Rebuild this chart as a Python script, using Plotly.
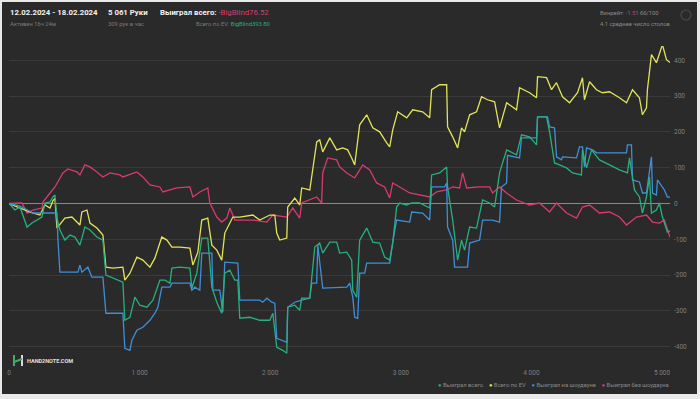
import plotly.graph_objects as go

# ---------------- data (hands, BigBlinds) ----------------
won_total_x = [0, 46, 84, 107, 138, 176, 214, 252, 275, 314, 337, 352, 367, 390, 428, 467, 505, 543, 581, 620, 673, 719,
               742, 796, 872, 887, 926, 964, 1002, 1056, 1102, 1155, 1193, 1232, 1247, 1308, 1385, 1400, 1438, 1476, 1522,
               1553, 1591, 1629, 1652, 1691, 1729, 1752, 1767, 1844, 1920, 1997, 2020, 2050, 2096, 2127, 2134, 2188, 2226,
               2241, 2303, 2341, 2379, 2402, 2456, 2509, 2532, 2586, 2624, 2632, 2662, 2685, 2739, 2785, 2838, 2876, 2915,
               2938, 2968, 2991, 3045, 3083, 3144, 3221, 3236, 3297, 3351, 3358, 3397, 3435, 3465, 3488, 3527, 3580, 3626,
               3680, 3718, 3756, 3810, 3886, 3924, 3986, 4039, 4047, 4116, 4139, 4177, 4215, 4269, 4315, 4383, 4391, 4422,
               4460, 4521, 4598, 4674, 4735, 4751, 4789, 4827, 4850, 4881, 4904, 4919, 4957, 4980, 5003, 5041, 5061]
won_total_y = [0, -18.2, -9.8, -32.2, -65.8, -54.6, -46.2, -37.8, 1.4, 4.2, 18.2, 23.8, -40.6, -74.2, -102.2, -88.2, -93.8,
               -116.2, -65.8, -74.2, -93.8, -102.2, -200.2, -208.6, -219.8, -326.2, -317.8, -261.8, -284.2, -289.8, -270.2,
               -214.2, -214.2, -222.6, -180.6, -177.8, -180.6, -236.6, -194.6, -96.6, -96.6, -233.8, -275.8, -306.6, -194.6,
               -186.2, -214.2, -214.2, -320.6, -317.8, -326.2, -326.2, -306.6, -401.8, -410.2, -418.6, -289.8, -284.2,
               -298.2, -264.6, -264.6, -121.8, -110.6, -138.6, -107.8, -107.8, -138.6, -135.8, -158.2, -242.2, -261.8,
               -102.2, -68.6, -107.8, -110.6, -149.8, -158.2, -110.6, -9.8, 1.4, -4.2, 1.4, 1.4, -12.6, 79.8, 85.4, 102.2,
               46.2, -46.2, -158.2, -102.2, -130.2, -65.8, -68.6, 9.8, 1.4, -9.8, 85.4, 149.8, 135.8, 191.8, 186.2, 163.8,
               242.2, 242.2, 200.2, 113.4, 107.8, 99.4, 85.4, 79.8, 149.8, 99.4, 149.8, 121.8, 107.8, 93.8, 85.4, 127.4,
               37.8, 18.2, -26.6, 18.2, 74.2, -26.6, -18.2, 1.4, -37.8, -79.8, -76.52]

ev_total_x = [0, 84, 161, 237, 275, 314, 337, 352, 367, 428, 482, 520, 543, 558, 597, 620, 673, 719, 742, 796, 872, 887,
              926, 979, 1025, 1079, 1117, 1170, 1209, 1247, 1308, 1385, 1408, 1446, 1476, 1522, 1553, 1591, 1629, 1652,
              1691, 1714, 1767, 1867, 1920, 1997, 2035, 2050, 2073, 2127, 2134, 2188, 2226, 2241, 2303, 2356, 2379, 2402,
              2456, 2509, 2555, 2593, 2624, 2647, 2685, 2739, 2785, 2838, 2892, 2915, 2938, 2976, 3045, 3091, 3167, 3221,
              3236, 3297, 3351, 3358, 3397, 3435, 3465, 3488, 3527, 3580, 3618, 3664, 3718, 3756, 3810, 3886, 3909, 3986,
              4039, 4047, 4116, 4154, 4192, 4238, 4292, 4353, 4391, 4406, 4445, 4498, 4544, 4598, 4674, 4728, 4774, 4827,
              4850, 4881, 4888, 4919, 4957, 5003, 5034, 5061]
ev_total_y = [0, -12.6, -23.8, -32.2, -4.2, -12.6, 8.4, 14.0, -68.6, -40.6, -37.8, -51.8, -60.2, -23.8, -18.2, -54.6,
              -68.6, -88.2, -177.8, -180.6, -177.8, -214.2, -194.6, -149.8, -158.2, -177.8, -152.6, -93.8, -102.2, -121.8,
              -121.8, -124.6, -172.2, -135.8, -46.2, -40.6, -116.2, -130.2, -158.2, -82.6, -54.6, -37.8, -37.8, -32.2,
              -46.2, -32.2, -32.2, -82.6, -102.2, -96.6, -9.8, 15.4, -4.2, 43.4, 37.8, 172.2, 177.8, 144.2, 183.4, 149.8,
              155.4, 149.8, 127.4, 107.8, 219.8, 247.8, 211.4, 200.2, 169.4, 158.2, 205.8, 256.2, 239.4, 261.8, 256.2,
              239.4, 317.8, 331.8, 331.8, 214.2, 186.2, 155.4, 211.4, 200.2, 247.8, 256.2, 298.2, 289.8, 284.2, 211.4,
              281.4, 261.8, 323.4, 309.4, 295.4, 354.2, 351.4, 317.8, 337.4, 298.2, 281.4, 309.4, 351.4, 289.8, 340.2,
              317.8, 309.4, 312.2, 295.4, 281.4, 317.8, 295.4, 247.8, 267.4, 317.8, 415.8, 393.4, 443.8, 401.8, 393.8]

showdown_x = [0, 84, 184, 367, 375, 390, 528, 543, 558, 604, 635, 719, 742, 872, 887, 926, 941, 979, 1025, 1079, 1117,
              1140, 1170, 1232, 1247, 1385, 1400, 1423, 1461, 1476, 1553, 1561, 1614, 1637, 1652, 1752, 1767, 1920, 1943,
              1974, 2012, 2035, 2050, 2127, 2134, 2188, 2241, 2303, 2318, 2356, 2364, 2402, 2586, 2609, 2632, 2647, 2670,
              2685, 2723, 2739, 2915, 2938, 2968, 3068, 3083, 3167, 3221, 3236, 3335, 3351, 3358, 3397, 3412, 3511, 3527,
              3603, 3626, 3703, 3756, 3771, 3810, 3817, 3909, 3924, 4039, 4047, 4123, 4139, 4177, 4192, 4230, 4238, 4345,
              4368, 4391, 4406, 4422, 4468, 4498, 4728, 4735, 4766, 4774, 4827, 4850, 4881, 4919, 4927, 4957, 4965, 5018,
              5041, 5061]
showdown_y = [0, -7, -26.6, -26.6, -102.2, -191.8, -191.8, -172.2, -191.8, -177.8, -205.8, -205.8, -306.6, -306.6,
              -404.6, -410.2, -382.2, -354.2, -345.8, -326.2, -306.6, -289.8, -233.8, -233.8, -222.6, -222.6, -242.2,
              -233.8, -242.2, -138.6, -138.6, -242.2, -242.2, -303.8, -163.8, -166.6, -270.2, -270.2, -275.8, -264.6,
              -275.8, -278.6, -376.6, -387.8, -289.8, -275.8, -270.2, -264.6, -222.6, -222.6, -116.2, -236.6, -233.8,
              -222.6, -261.8, -317.8, -320.6, -194.6, -194.6, -166.6, -166.6, -107.8, -46.2, -51.8, -23.8, -26.6, -46.2,
              46.2, 46.2, 57.4, -65.8, -102.2, -177.8, -177.8, -110.6, -102.2, -46.2, -46.2, -51.8, 46.2, 57.4, 134.4,
              127.4, 183.4, 183.4, 242.2, 242.2, 214.2, 211.4, 130.2, 121.8, 130.2, 127.4, 158.2, 158.2, 102.2, 155.4,
              149.8, 141.4, 141.4, 163.8, 163.8, 65.8, 60.2, 29.4, 29.4, 130.2, 29.4, 23.8, 65.8, 37.8, 18.2, 18.0]

non_showdown_x = [0, 99, 138, 184, 252, 260, 314, 352, 413, 451, 520, 543, 581, 620, 673, 719, 773, 849, 872, 979, 1025,
                  1079, 1155, 1178, 1285, 1385, 1408, 1461, 1522, 1538, 1591, 1629, 1668, 1691, 1729, 1767, 1867, 1974,
                  2020, 2127, 2173, 2226, 2241, 2356, 2394, 2402, 2440, 2509, 2532, 2586, 2647, 2708, 2762, 2815, 2876,
                  2915, 2938, 2991, 3068, 3144, 3221, 3274, 3351, 3397, 3450, 3473, 3504, 3603, 3680, 3703, 3756, 3810,
                  3886, 3986, 4062, 4139, 4192, 4269, 4345, 4391, 4445, 4521, 4598, 4674, 4728, 4804, 4881, 4927, 4980,
                  5018, 5061]
non_showdown_y = [0, 1.4, -26.6, -18.2, -12.6, 4.2, 29.4, 46.2, 85.4, 96.6, 88.2, 79.8, 107.8, 102.2, 88.2, 74.2, 85.4,
                  79.8, 74.2, 88.2, 74.2, 51.8, 46.2, 32.2, 43.4, 46.2, 18.2, 32.2, 43.4, 1.4, -37.8, -51.8, -40.6, -12.6,
                  -46.2, -46.2, -46.2, -51.8, -32.2, -37.8, -12.6, -40.6, 1.4, 18.2, 1.4, 85.4, 127.4, 121.8, 102.2, 85.4,
                  71.4, 107.8, 93.8, 57.4, 46.2, 15.4, 57.4, 46.2, 29.4, 23.8, 18.2, 32.2, 37.8, 46.2, 43.4, 85.4, 43.4,
                  46.2, 46.2, 29.4, 46.2, 29.4, 9.8, -4.2, 1.4, -23.8, 1.4, -26.6, -40.6, -9.8, -4.2, -26.6, -23.8, -37.8,
                  -60.2, -37.8, -32.2, -51.8, -54.6, -46.2, -94.5]

series_names = ["Выиграл всего", "Всего по EV", "Выиграл на шоудауне", "Выиграл без шоудауна"]
series_colors = ["#27b07e", "#e3e35a", "#3f8fd8", "#d93a6e"]

x_tickvals = [0, 1000, 2000, 3000, 4000, 5000]
x_ticktext = ["0", "1 000", "2 000", "3 000", "4 000", "5 000"]
y_tickvals = [-400, -300, -200, -100, 0, 100, 200, 300, 400]
y_ticktext = ["-400", "-300", "-200", "-100", "0", "100", "200", "300", "400"]

# ---------------- layout geometry ----------------
W, H = 700, 399
L, R, T, B = 9, 30, 46, 38
PW, PH = W - L - R, H - T - B


def px(xp):
    return (xp - L) / PW


def py(yp):
    return (H - B - yp) / PH


fig = go.Figure()

data_sets = [
    (non_showdown_x, non_showdown_y, 3),
    (ev_total_x, ev_total_y, 1),
    (showdown_x, showdown_y, 2),
    (won_total_x, won_total_y, 0),
]
for xs, ys, idx in data_sets:
    fig.add_trace(go.Scatter(x=xs, y=ys, mode="lines", name=series_names[idx],
                             line=dict(color=series_colors[idx], width=1.3, shape="linear"),
                             showlegend=False, hoverinfo="skip"))

BG = "#2a2a2a"
fig.update_layout(
    width=W, height=H,
    margin=dict(l=L, r=R, t=T, b=B, autoexpand=False),
    paper_bgcolor="#e9e9e9",
    plot_bgcolor="rgba(0,0,0,0)",
    font=dict(family="Roboto, sans-serif", color="#8a8a8a", size=7),
    showlegend=False,
    xaxis=dict(range=[0, 5061], tickvals=x_tickvals, ticktext=x_ticktext, showgrid=False,
               zeroline=False, showline=False, ticks="", ticklabelstandoff=6, automargin=False,
               tickfont=dict(size=6.5, color="#7f7f7f")),
    yaxis=dict(range=[-440, 440], tickvals=y_tickvals, ticktext=y_ticktext, side="right",
               showgrid=True, gridcolor="#3a3a3a", gridwidth=1, zeroline=True, automargin=False,
               zerolinecolor="#8a8a8a", zerolinewidth=1, showline=False, ticks="",
               ticklabelstandoff=3, tickfont=dict(size=6.5, color="#7f7f7f")),
)

# dark panel behind everything
fig.add_shape(type="rect", xref="paper", yref="paper", layer="below",
              x0=px(2), x1=px(697), y0=py(394), y1=py(2),
              fillcolor=BG, line=dict(width=0))

# gear icon
fig.add_shape(type="circle", xref="paper", yref="paper",
              x0=px(681), x1=px(691), y0=py(20), y1=py(10),
              line=dict(color="#4a4a4a", width=1.2), fillcolor="rgba(0,0,0,0)")

# logo icon
fig.add_shape(type="rect", xref="paper", yref="paper", x0=px(13), x1=px(15), y0=py(366), y1=py(355),
              fillcolor="#3fae6a", line=dict(width=0))
fig.add_shape(type="rect", xref="paper", yref="paper", x0=px(21), x1=px(23), y0=py(366), y1=py(355),
              fillcolor="#d8d8d8", line=dict(width=0))
fig.add_shape(type="line", xref="paper", yref="paper", x0=px(14), x1=px(22), y0=py(362), y1=py(359),
              line=dict(color="#3fae6a", width=2))

ann = []


def text(xp, yp, s, size=7, color="#8a8a8a", anchor="left"):
    ann.append(dict(x=px(xp), y=py(yp), xref="paper", yref="paper", text=s, showarrow=False,
                    xanchor=anchor, yanchor="middle", borderpad=0, font=dict(size=size, color=color)))


text(9, 13, "<b>12.02.2024 - 18.02.2024</b>", 7.8, "#f2f2f2")
text(9, 24, "Активен 16ч 24м", 5.8, "#7a7a7a")
text(107, 13, "<b>5 061 Руки</b>", 7.8, "#f2f2f2")
text(107, 24, "309 рук в час", 5.8, "#7a7a7a")
text(159, 13, "<b>Выиграл всего:</b> <span style='color:#d93a6e'>-BigBlind76.52</span>", 7.8, "#f2f2f2")
text(271, 24, "Всего по EV: <span style='color:#27b07e'>BigBlind393.80</span>", 5.8, "#7a7a7a", "right")
text(599, 13, "Винрейт: <span style='color:#d93a6e'>-1.51</span> бб/100", 5.8, "#8a8a8a")
text(599, 24, "4.1 среднее число столов", 5.8, "#8a8a8a")
text(26, 361, "<b>HAND2NOTE.COM</b>", 5.5, "#e0e0e0")

legend_parts = []
for name, col in zip(series_names, series_colors):
    legend_parts.append(f"<span style='color:{col}'>●</span> {name}")
text(670, 385, "    ".join(legend_parts), 5.8, "#8a8a8a", "right")

fig.update_layout(annotations=ann)

fig.write_html("out.html", config={"displayModeBar": False},
               post_script="document.body.style.margin='0';document.body.style.padding='0';"
                           "document.body.style.overflow='hidden';")
